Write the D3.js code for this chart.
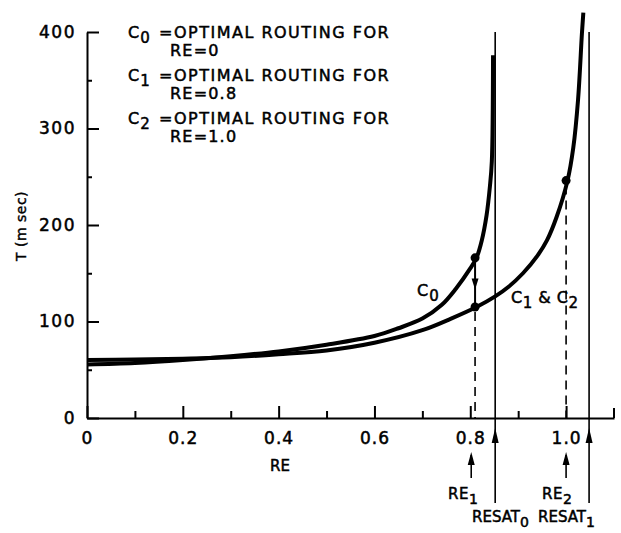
<!DOCTYPE html>
<html>
<head>
<meta charset="utf-8">
<script src="https://cdn.jsdelivr.net/npm/d3@7"></script>
<style>
  body { margin: 0; background: #fff; }
  text { font-family: "DejaVu Sans", sans-serif; fill: #000; }
</style>
</head>
<body>
<script>
// curve C0 (optimal routing for RE=0)
const c0RE = [0, 0.1, 0.2, 0.3, 0.4, 0.5, 0.6, 0.65, 0.7, 0.74, 0.77, 0.8, 0.813, 0.824, 0.834, 0.841, 0.845, 0.8475];
const c0T  = [55.5, 57, 60, 64, 69, 76, 85, 93, 103, 117, 134, 155, 166, 184, 210, 240, 266, 376];
// curve C1 & C2
const c1RE = [0, 0.1, 0.2, 0.3, 0.4, 0.5, 0.6, 0.7, 0.76, 0.813, 0.852, 0.88, 0.91, 0.94, 0.96, 0.98, 1.003, 1.015, 1.025, 1.033, 1.036];
const c1T  = [60, 60.5, 61.5, 63, 66, 70, 78, 91, 103, 115, 126, 136, 150, 168, 184, 208, 246, 280, 330, 398, 420];

const xMajor = [0, 0.2, 0.4, 0.6, 0.8, 1.0];
const xMinor = [0.1, 0.3, 0.5, 0.7, 0.9];
const yMajor = [0, 100, 200, 300, 400];
const yMinor = [50, 150, 250, 350];

// marked points
const re1 = 0.81, re2 = 1.0, resat0 = 0.852, resat1 = 1.048;
const dotC0 = [re1, 166], dotC1 = [re1, 115], dotC2 = [re2, 246];

const legendKeys = ["0", "1", "2"];
const legendRE = ["0", "0.8", "1.0"];

const svg = d3.select("body").append("svg")
  .attr("width", 621).attr("height", 533);

const x = d3.scaleLinear().domain([0, 1.1]).range([87, 614]);
const y = d3.scaleLinear().domain([0, 400]).range([418, 32]);

// y axis, ticks pointing inward
const yAx = svg.append("g").attr("transform", `translate(${x(0)},0)`)
  .call(d3.axisLeft(y).tickValues(yMajor).tickSize(-12).tickSizeOuter(0).tickPadding(11));
yAx.select(".domain").attr("stroke-width", 2);
yAx.selectAll(".tick line").attr("stroke-width", 2);
yAx.selectAll("text").attr("font-size", 17).attr("letter-spacing", 1.5)
  .attr("stroke", "#000").attr("stroke-width", 0.5);

svg.append("g").attr("transform", `translate(${x(0)},0)`)
  .call(d3.axisLeft(y).tickValues(yMinor).tickSize(-5).tickFormat(""))
  .call(g => g.select(".domain").remove())
  .selectAll(".tick line").attr("stroke-width", 2);

// x axis
const xAx = svg.append("g").attr("transform", `translate(0,${y(0)})`)
  .call(d3.axisBottom(x).tickValues(xMajor).tickSize(-12).tickSizeOuter(0).tickPadding(14)
    .tickFormat(d => d === 0 ? "0" : d3.format(".1f")(d)));
xAx.select(".domain").attr("stroke-width", 2);
xAx.selectAll(".tick line").attr("stroke-width", 2);
xAx.selectAll("text").attr("font-size", 17).attr("letter-spacing", 1)
  .attr("stroke", "#000").attr("stroke-width", 0.5);

svg.append("g").attr("transform", `translate(0,${y(0)})`)
  .call(d3.axisBottom(x).tickValues(xMinor).tickSize(-7).tickFormat(""))
  .call(g => g.select(".domain").remove())
  .selectAll(".tick line").attr("stroke-width", 2);
// end tick at 1.1
svg.append("line").attr("x1", x(1.1)).attr("x2", x(1.1))
  .attr("y1", y(0)).attr("y2", y(0) - 10).attr("stroke", "#000").attr("stroke-width", 2);

// axis titles
svg.append("text").attr("x", 280).attr("y", 471).attr("text-anchor", "middle")
  .attr("font-size", 15).attr("stroke", "#000").attr("stroke-width", 0.5).text("RE");
svg.append("text").attr("transform", "translate(26,226) rotate(-90)").attr("text-anchor", "middle")
  .attr("font-size", 14).attr("letter-spacing", 0.5).attr("stroke", "#000").attr("stroke-width", 0.4)
  .text("T (m sec)");

// saturation lines (through the axis, arrow up below)
[resat0, resat1].forEach(v => {
  svg.append("line").attr("x1", x(v)).attr("x2", x(v))
    .attr("y1", y(400)).attr("y2", 503).attr("stroke", "#000").attr("stroke-width", 1.6);
  svg.append("path").attr("d", `M${x(v)},428 L${x(v) - 3.5},443 L${x(v) + 3.5},443 Z`).attr("fill", "#000");
});

// RE1 / RE2 arrows
[re1 - 0.008, re2].forEach(v => {
  svg.append("line").attr("x1", x(v)).attr("x2", x(v))
    .attr("y1", 455).attr("y2", 478).attr("stroke", "#000").attr("stroke-width", 1.6);
  svg.append("path").attr("d", `M${x(v)},452 L${x(v) - 3.5},465 L${x(v) + 3.5},465 Z`).attr("fill", "#000");
});

// dashed drop lines
[dotC1, dotC2].forEach(p => {
  svg.append("line").attr("x1", x(p[0])).attr("x2", x(p[0]))
    .attr("y1", y(p[1]) + 5).attr("y2", y(0)).attr("stroke", "#000")
    .attr("stroke-width", 1.6).attr("stroke-dasharray", "9,6");
});

// curves
const line = d3.line().x(d => x(d[0])).y(d => y(d[1])).curve(d3.curveCatmullRom.alpha(0.5));
svg.append("path").datum(c0RE.map((r, i) => [r, c0T[i]]))
  .attr("d", line).attr("fill", "none").attr("stroke", "#000").attr("stroke-width", 4);
svg.append("path").datum(c1RE.map((r, i) => [r, c1T[i]]))
  .attr("d", line).attr("fill", "none").attr("stroke", "#000").attr("stroke-width", 4);

// arrow from C0 point down to C1 point
svg.append("line").attr("x1", x(re1)).attr("x2", x(re1))
  .attr("y1", y(dotC0[1])).attr("y2", y(dotC1[1])).attr("stroke", "#000").attr("stroke-width", 2);
const midY = (y(dotC0[1]) + y(dotC1[1])) / 2 + 2;
svg.append("path").attr("d", `M${x(re1)},${midY + 5} L${x(re1) - 3.5},${midY - 6} L${x(re1) + 3.5},${midY - 6} Z`)
  .attr("fill", "#000");

// dots
svg.selectAll("circle.pt").data([dotC0, dotC1, dotC2]).enter().append("circle")
  .attr("class", "pt").attr("cx", d => x(d[0])).attr("cy", d => y(d[1])).attr("r", 4.5).attr("fill", "#000");

// text made of [string, isSubscript] parts
function subText(px, py, parts, size, spacing) {
  const t = svg.append("text").attr("x", px).attr("y", py).attr("font-size", size)
    .attr("stroke", "#000").attr("stroke-width", 0.5).attr("letter-spacing", spacing);
  let low = false;
  parts.forEach(([s, sub]) => {
    const ts = t.append("tspan").text(s);
    if (sub && !low) ts.attr("dy", 5);
    if (!sub && low) ts.attr("dy", -5);
    if (sub) ts.attr("font-size", size - 1);
    low = sub;
  });
  return t;
}

// legend
const legTop = 38, legGap = 43;
legendKeys.forEach((k, i) => {
  subText(128, legTop + i * legGap, [["C", false], [k, true]], 16, 1);
  svg.append("text").attr("x", 159).attr("y", legTop + i * legGap).attr("font-size", 16)
    .attr("letter-spacing", 1.5).attr("stroke", "#000").attr("stroke-width", 0.5)
    .text("=OPTIMAL ROUTING FOR");
  svg.append("text").attr("x", 170).attr("y", legTop + i * legGap + 17.5).attr("font-size", 16)
    .attr("letter-spacing", 1.2).attr("stroke", "#000").attr("stroke-width", 0.5)
    .text("RE=" + legendRE[i]);
});

// curve labels
subText(417, 296, [["C", false], ["0", true]], 16, 1);
subText(511, 303, [["C", false], ["1", true], [" & C", false], ["2", true]], 16, 0.5);

// bottom labels
subText(448, 499, [["RE", false], ["1", true]], 15, 0.5);
subText(542, 499, [["RE", false], ["2", true]], 15, 0.5);
subText(472, 522, [["RESAT", false], ["0", true]], 15, 0);
subText(538, 522, [["RESAT", false], ["1", true]], 15, 0);
</script>
</body>
</html>
